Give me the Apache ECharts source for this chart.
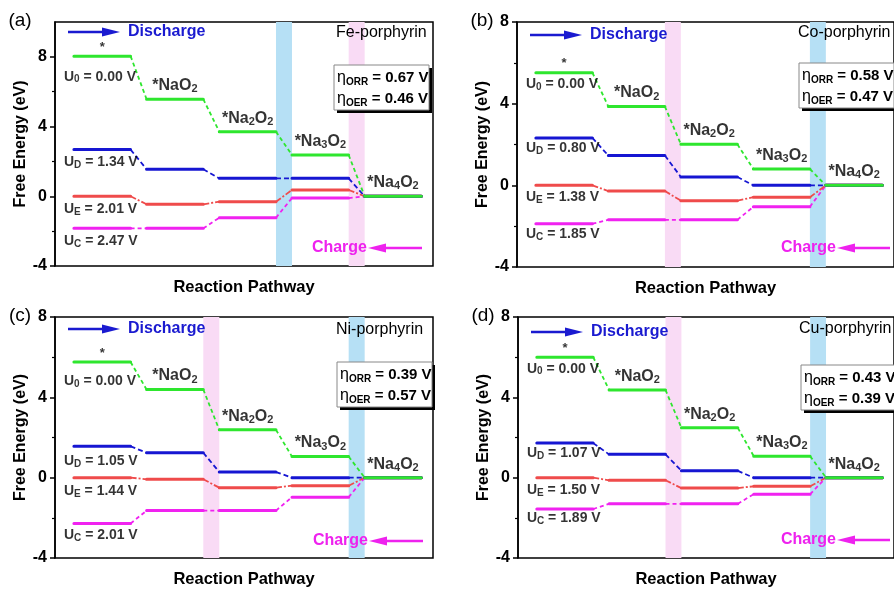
<!DOCTYPE html>
<html>
<head>
<meta charset="utf-8">
<script src="https://cdn.jsdelivr.net/npm/echarts@6/dist/echarts.min.js"></script>
<style>
  html, body { margin: 0; padding: 0; background: #fff; }
  #chart { width: 894px; height: 589px; }
</style>
</head>
<body>
<div id="chart"></div>
<script>
const FONT = '"Liberation Sans", Arial, Helvetica, sans-serif';

// Intermediates along the discharge pathway (rich-text markup for subscripts)
const stepLabels = ['{a|*}', '{n|*NaO}{s|2}', '{n|*Na}{s|2}{n|O}{s|2}', '{n|*Na}{s|3}{n|O}{s|2}', '{n|*Na}{s|4}{n|O}{s|2}'];
// Subscripts of the applied potentials: U0, UD, UE, UC
const potentialSubs = ['0', 'D', 'E', 'C'];
const yTicks = [-4, 0, 4, 8];
const yMinorTicks = [-2, 2, 6];

// Fe-porphyrin: free energies (eV) of each intermediate at U0, UD, UE, UC
const feU0 = [8.04, 5.57, 3.71, 2.37, 0];
const feUD = [2.68, 1.55, 1.03, 1.03, 0];
const feUE = [0, -0.46, -0.31, 0.36, 0];
const feUC = [-1.84, -1.84, -1.23, -0.10, 0];
const fePotentials = [0.00, 1.34, 2.01, 2.47];
const feEta = [0.67, 0.46];

// Co-porphyrin
const coU0 = [5.52, 3.86, 2.01, 0.80, 0];
const coUD = [2.32, 1.46, 0.41, 0, 0];
const coUE = [0, -0.28, -0.75, -0.58, 0];
const coUC = [-1.88, -1.69, -1.69, -1.05, 0];
const coPotentials = [0.00, 0.80, 1.38, 1.85];
const coEta = [0.58, 0.47];

// Ni-porphyrin
const niU0 = [5.76, 4.39, 2.38, 1.05, 0];
const niUD = [1.56, 1.24, 0.28, 0, 0];
const niUE = [0, -0.08, -0.50, -0.40, 0];
const niUC = [-2.28, -1.64, -1.64, -0.97, 0];
const niPotentials = [0.00, 1.05, 1.44, 2.01];
const niEta = [0.39, 0.57];

// Cu-porphyrin
const cuU0 = [6.00, 4.37, 2.48, 1.07, 0];
const cuUD = [1.72, 1.16, 0.34, 0, 0];
const cuUE = [0, -0.13, -0.52, -0.43, 0];
const cuUC = [-1.56, -1.30, -1.30, -0.82, 0];
const cuPotentials = [0.00, 1.07, 1.50, 1.89];
const cuEta = [0.43, 0.39];

const CURVE_COLORS = ['#2ee62e', '#1616d2', '#ef4b4b', '#f022f0'];
const LINK_DASH = [[4, 3], [5, 3], [6, 2, 2, 2], [4, 3]];
const BLUE = '#1a1ad0';
const MAGENTA = '#ee22ee';
const BAND_BLUE = '#b6e0f5';
const BAND_PINK = '#f9dbf5';

// each level occupies [i, i + LEVEL_W] on the pathway axis
const LEVEL_W = 0.78;
const X_MIN = -0.26, X_MAX = 4.94;

const panels = [
  { tag: '(a)', name: 'Fe-porphyrin', curves: [feU0, feUD, feUE, feUC], potentials: fePotentials, eta: feEta,
    blueGap: 2, pinkGap: 3, yMax: 10, grid: { left: 55, top: 22, width: 378, height: 244 },
    dischargeY: 10, chargeY: 226, chargeTip: 313, chargeEnd: 367, nameY: 11, etaX: 279, etaY: 43, uDy: [21, 13, 13, 13] },
  { tag: '(b)', name: 'Co-porphyrin', curves: [coU0, coUD, coUE, coUC], potentials: coPotentials, eta: coEta,
    blueGap: 3, pinkGap: 1, yMax: 8, grid: { left: 517, top: 22, width: 378, height: 245 },
    dischargeY: 13, chargeY: 226, chargeTip: 320, chargeEnd: 373, nameY: 11, etaX: 282, etaY: 41, uDy: [12, 11, 12, 11] },
  { tag: '(c)', name: 'Ni-porphyrin', curves: [niU0, niUD, niUE, niUC], potentials: niPotentials, eta: niEta,
    blueGap: 3, pinkGap: 1, yMax: 8, grid: { left: 55, top: 317, width: 378, height: 244 },
    dischargeY: 12, chargeY: 224, chargeTip: 314, chargeEnd: 368, nameY: 13, etaX: 282, etaY: 45, uDy: [20, 15, 14, 12] },
  { tag: '(d)', name: 'Cu-porphyrin', curves: [cuU0, cuUD, cuUE, cuUC], potentials: cuPotentials, eta: cuEta,
    blueGap: 3, pinkGap: 1, yMax: 8, grid: { left: 518, top: 317, width: 378, height: 244 },
    dischargeY: 15, chargeY: 223, chargeTip: 319, chargeEnd: 372, nameY: 12, etaX: 283, etaY: 48, uDy: [12, 11, 13, 10] }
];

function levelData(vals) {
  const pts = [];
  vals.forEach((v, i) => {
    if (i > 0) pts.push([i, '-']);
    pts.push([i, v], [i + LEVEL_W, v]);
  });
  return pts;
}

function linkData(vals) {
  const pts = [];
  for (let i = 0; i < vals.length - 1; i++) {
    if (i > 0) pts.push([i + LEVEL_W, '-']);
    pts.push([i + LEVEL_W, vals[i]], [i + 1, vals[i + 1]]);
  }
  return pts;
}

const grids = [], xAxes = [], yAxes = [], series = [], graphics = [];

panels.forEach((p, k) => {
  grids.push(Object.assign({ show: true, borderColor: '#000', borderWidth: 1.5, backgroundColor: 'transparent' }, p.grid));

  xAxes.push({
    type: 'value', gridIndex: k, min: X_MIN, max: X_MAX,
    axisLine: { show: false, onZero: false }, axisTick: { show: false }, axisLabel: { show: false }, splitLine: { show: false },
    name: 'Reaction Pathway', nameLocation: 'middle', nameGap: 13,
    nameTextStyle: { fontFamily: FONT, fontSize: 16.5, fontWeight: 'bold', color: '#000' }
  });

  yAxes.push({
    type: 'value', gridIndex: k, min: -4, max: p.yMax, interval: 4,
    axisLine: { show: true, onZero: false, lineStyle: { color: '#000', width: 1.5 } },
    axisTick: { show: true, customValues: yTicks, length: 5, inside: false, lineStyle: { color: '#000', width: 1.5 } },
    axisLabel: { customValues: yTicks, margin: 8, fontFamily: FONT, fontSize: 16, fontWeight: 'bold', color: '#000' },
    splitLine: { show: false },
    name: 'Free Energy (eV)', nameLocation: 'middle', nameGap: 26,
    nameTextStyle: { fontFamily: FONT, fontSize: 16, fontWeight: 'bold', color: '#000' }
  });
  yAxes.push({
    type: 'value', gridIndex: k, min: -4, max: p.yMax, position: 'left',
    axisLine: { show: false, onZero: false }, axisLabel: { show: false }, splitLine: { show: false },
    axisTick: { show: true, customValues: yMinorTicks, length: 3, lineStyle: { color: '#000', width: 1.2 } }
  });

  const yi = 2 * k;

  // shaded potential-determining steps
  series.push({
    type: 'line', xAxisIndex: k, yAxisIndex: yi, data: [], silent: true, z: 1,
    markArea: {
      silent: true,
      data: [
        [{ xAxis: p.blueGap + LEVEL_W, itemStyle: { color: BAND_BLUE } }, { xAxis: p.blueGap + 1 }],
        [{ xAxis: p.pinkGap + LEVEL_W, itemStyle: { color: BAND_PINK } }, { xAxis: p.pinkGap + 1 }]
      ]
    }
  });

  // energy profiles, drawn magenta -> red -> blue -> green
  [3, 2, 1, 0].forEach(j => {
    const vals = p.curves[j];
    series.push({
      type: 'line', xAxisIndex: k, yAxisIndex: yi, data: linkData(vals), symbol: 'none', silent: true, z: 3,
      lineStyle: { color: CURVE_COLORS[j], width: 1.8, type: LINK_DASH[j] }
    });
    series.push({
      type: 'line', xAxisIndex: k, yAxisIndex: yi, data: levelData(vals), symbol: 'none', silent: true, z: 4,
      lineStyle: { color: CURVE_COLORS[j], width: 3, cap: 'round', join: 'round' }
    });
  });

  // intermediate labels above the U0 profile
  series.push({
    type: 'scatter', xAxisIndex: k, yAxisIndex: yi, symbolSize: 1, silent: true, z: 5,
    itemStyle: { color: 'transparent' },
    data: p.curves[0].map((v, i) => ({ value: [i + LEVEL_W / 2, v], name: stepLabels[i] })),
    label: {
      show: true, position: 'top', distance: 4, formatter: q => q.name, color: '#000',
      rich: {
        a: { fontFamily: FONT, fontSize: 13, fontWeight: 'bold', color: '#000', lineHeight: 9 },
        n: { fontFamily: FONT, fontSize: 16, fontWeight: 'bold', color: '#000', lineHeight: 18 },
        s: { fontFamily: FONT, fontSize: 11, fontWeight: 'bold', color: '#000', lineHeight: 8, verticalAlign: 'bottom' }
      }
    }
  });

  // applied-potential labels under the first level of each profile
  series.push({
    type: 'scatter', xAxisIndex: k, yAxisIndex: yi, symbolSize: 1, silent: true, z: 5,
    itemStyle: { color: 'transparent' },
    data: p.curves.map((vals, j) => ({
      value: [-0.13, vals[0]],
      name: `{n|U}{s|${potentialSubs[j]}}{n| = ${p.potentials[j].toFixed(2)} V}`,
      label: { position: [0, p.uDy[j]] }
    })),
    label: {
      show: true, align: 'left', verticalAlign: 'middle', formatter: q => q.name, color: '#000',
      rich: {
        n: { fontFamily: FONT, fontSize: 14, fontWeight: 'bold', color: '#000', lineHeight: 16 },
        s: { fontFamily: FONT, fontSize: 10, fontWeight: 'bold', color: '#000', lineHeight: 8, verticalAlign: 'bottom' }
      }
    }
  });

  // annotations
  const L = p.grid.left, T = p.grid.top;
  graphics.push({ type: 'text', z: 100, x: L - 35, y: T - 1,
    style: { text: p.tag, fontFamily: FONT, fontSize: 19, fill: '#000', align: 'center', verticalAlign: 'middle' } });

  const dy = T + p.dischargeY;
  graphics.push({ type: 'line', z: 100, shape: { x1: L + 13, y1: dy, x2: L + 52, y2: dy }, style: { stroke: BLUE, lineWidth: 2.5 } });
  graphics.push({ type: 'polygon', z: 100, shape: { points: [[L + 47, dy - 4.5], [L + 65, dy], [L + 47, dy + 4.5]] }, style: { fill: BLUE } });
  graphics.push({ type: 'text', z: 100, x: L + 73, y: dy,
    style: { text: 'Discharge', fontFamily: FONT, fontSize: 16, fontWeight: 'bold', fill: BLUE, align: 'left', verticalAlign: 'middle' } });

  const cy = T + p.chargeY, tip = L + p.chargeTip;
  graphics.push({ type: 'line', z: 100, shape: { x1: tip + 12, y1: cy, x2: L + p.chargeEnd, y2: cy }, style: { stroke: MAGENTA, lineWidth: 2.5 } });
  graphics.push({ type: 'polygon', z: 100, shape: { points: [[tip + 18, cy - 4.5], [tip, cy], [tip + 18, cy + 4.5]] }, style: { fill: MAGENTA } });
  graphics.push({ type: 'text', z: 100, x: tip - 1, y: cy,
    style: { text: 'Charge', fontFamily: FONT, fontSize: 16, fontWeight: 'bold', fill: MAGENTA, align: 'right', verticalAlign: 'middle' } });

  graphics.push({ type: 'text', z: 100, x: L + 281, y: T + p.nameY,
    style: { text: p.name, fontFamily: FONT, fontSize: 16, fill: '#000', align: 'left', verticalAlign: 'middle' } });

  const bx = L + p.etaX, by = T + p.etaY;
  graphics.push({ type: 'rect', z: 100, shape: { x: bx + 3, y: by + 3, width: 95, height: 45 }, style: { fill: '#000' } });
  graphics.push({ type: 'rect', z: 101, shape: { x: bx, y: by, width: 95, height: 45 }, style: { fill: '#fff', stroke: '#888', lineWidth: 1 } });
  const etaRich = {
    e: { fontFamily: FONT, fontSize: 16, fill: '#000', lineHeight: 18 },
    s: { fontFamily: FONT, fontSize: 10, fontWeight: 'bold', fill: '#000', lineHeight: 8, verticalAlign: 'bottom' },
    n: { fontFamily: FONT, fontSize: 15, fontWeight: 'bold', fill: '#000', lineHeight: 18 }
  };
  ['ORR', 'OER'].forEach((sub, r) => {
    graphics.push({ type: 'text', z: 102, x: bx + 3, y: by + 13 + r * 21,
      style: { text: `{e|η}{s|${sub}}{n| = ${p.eta[r].toFixed(2)} V}`, rich: etaRich, align: 'left', verticalAlign: 'middle' } });
  });
});

const chart = echarts.init(document.getElementById('chart'), null, { renderer: 'canvas' });
chart.setOption({
  animation: false,
  backgroundColor: '#fff',
  grid: grids,
  xAxis: xAxes,
  yAxis: yAxes,
  series: series,
  graphic: graphics
});
</script>
</body>
</html>
